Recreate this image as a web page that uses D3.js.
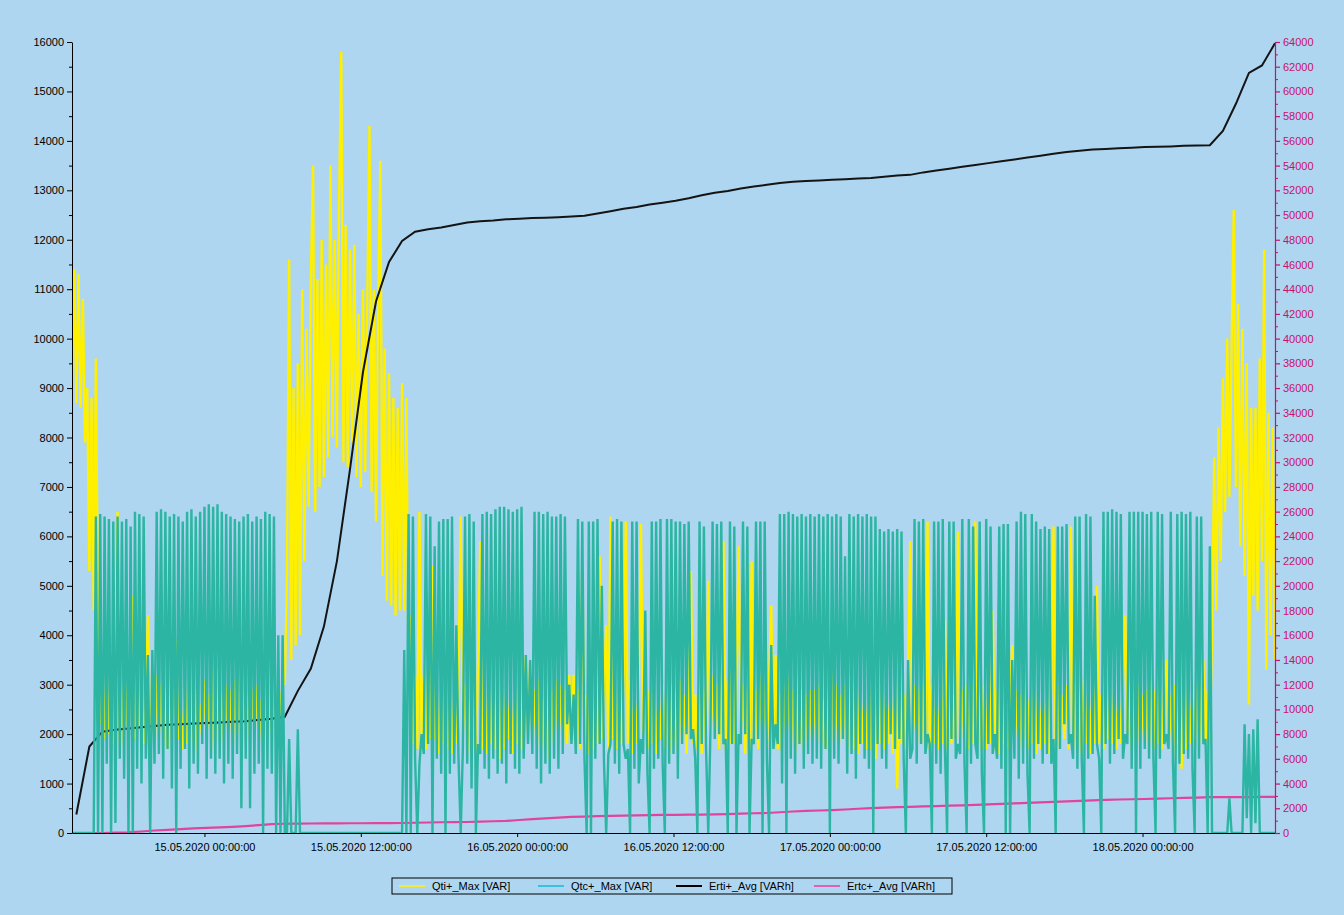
<!DOCTYPE html>
<html>
<head>
<meta charset="utf-8">
<script src="https://cdn.jsdelivr.net/npm/d3@7"></script>
<style>
  html, body { margin: 0; padding: 0; background: #afd6f0; }
  svg { display: block; }
  text { font-family: "Liberation Sans", Arial, sans-serif; }
</style>
</head>
<body>
<svg id="chart" width="1344" height="915"></svg>
<script>
// Reactive power maxima, one reading every 10 minutes from qStart (VAR)
const qStart = "14.05.2020 13:50:00";
const qStepMinutes = 10;

const qtiMax = [
  9000, 11400, 8700, 11300, 8600, 10800, 7900, 9000, 5300, 8800, 4500, 9600, 4300,
  2200, 3600, 1900, 3300, 2000, 2900, 1800, 3500, 6500, 1800,
  2900, 1700, 3000, 1900, 3700, 4800, 1900, 3300, 2100, 3000,
  1800, 2800, 4400, 1800, 2700, 1700, 3200, 2000, 3000, 1800,
  2900, 1700, 3100, 1900, 2800, 3900, 1900, 2600, 1700, 3100,
  1800, 2900, 4400, 1800, 2900, 1600, 2600, 1900, 3100, 2000,
  2800, 1700, 3400, 1900, 3300, 2100, 2800, 1800, 3000, 2000,
  2900, 1700, 3100, 2000, 3600, 1800, 3200, 2200, 2800, 1900,
  2900, 2100, 3000, 1800, 2700, 2000, 3300, 2100, 4200, 2000,
  3100, 2200, 3000, 2400, 3100,
  3000, 5200, 11600, 3500, 9000, 3800, 9500, 4000, 11000, 5500,
  10200, 6600, 11200, 13500, 6500, 11200, 7000, 12000, 7200, 11500,
  7600, 13500, 8000, 12000, 7800, 12800, 15800, 7500, 12300, 7400,
  11800, 7900, 11900, 7200, 10500, 7000, 11000, 7300, 10800, 14300,
  6900, 11000, 6300, 10800, 13600, 5200, 9800, 4700, 9300, 4600,
  8800, 4400, 8600, 4500, 9100,
  4500, 8800, 3000, 4400, 1800, 3200, 1700, 6500, 1800, 3200,
  1700, 3300, 1900, 5400, 1900, 2800, 1600, 3100, 1800, 2900,
  1700, 3000, 1600, 2800, 1800, 3200, 6400, 2000, 3000, 1600,
  2700, 1800, 3000, 1700, 3400, 5900, 1700, 3100, 1600, 2900,
  1800, 3000, 1700, 3200, 1500, 2800, 1700, 3000, 1900, 2800,
  1600, 2900, 1800, 3100, 1700, 2800, 3600, 2000, 3500, 1900,
  2900, 1600, 3100, 1700, 2700, 1800, 3000, 1500, 2900, 1800,
  3100, 1900, 3000, 1700, 2900, 1800, 3200, 2000, 3200, 1800,
  2900, 1700, 5600, 1800, 2800, 1600, 3000, 1700, 2900, 1800,
  5600, 1900, 3000, 4200, 1700, 6400, 1900, 3000, 1700, 2900,
  1800, 3100, 6300, 1800, 3100, 1600, 2900, 1800, 3000, 6250,
  2000, 4100, 1700, 2900, 1800, 3100, 1600, 2700, 1900, 3000,
  1700, 2800, 1600, 3000, 1800, 2900, 1700, 3100, 1800, 2800,
  1600, 3000, 5300, 1800, 2800, 1700, 3000, 1600, 2900, 1800,
  5100, 1800, 3200, 1900, 3000, 1700, 3100, 5900, 1700, 3100,
  1800, 4300, 1800, 3000, 5800, 2000, 3000, 1600, 2900, 1700,
  5500, 1800, 2900, 1700, 3200, 1900, 3000, 1700, 3100, 4600,
  2000, 3600, 1700, 2800, 1600, 3000, 1800, 3200, 1700, 2900,
  1600, 3200, 1800, 2900, 1700, 2800, 1800, 2900, 1700, 2900,
  1800, 3000, 1800, 2700, 1700, 2900, 1800, 3600, 1700, 3000,
  1600, 2800, 1900, 3000, 1700, 2900, 3400, 1700, 2900, 1600,
  3000, 1800, 2800, 1700, 3000, 1700, 2800, 1500, 2800, 1800,
  3000, 1700, 2900, 1800, 2900, 1600, 3100, 900, 2800, 1800,
  2800, 1700, 3000, 5900, 1800, 3000, 1700, 2900, 1800, 3000,
  1800, 6300, 1700, 3000, 1800, 2800, 1700, 2900, 1800, 4300,
  1700, 3000, 1800, 2800, 1900, 6100, 1900, 2900, 1700, 3000,
  1700, 3100, 1800, 6300, 1800, 2800, 1700, 3000, 1700, 3000,
  1800, 4500, 1700, 2900, 1600, 3000, 1800, 2900, 1700, 2800,
  3800, 1700, 2900, 1600, 2800, 1900, 3000, 1700, 2700, 1800,
  2900, 1600, 3000, 1700, 2800, 1800, 2900, 1600, 3000, 6200,
  1800, 3000, 1700, 2800, 1900, 3000, 1700, 6200, 1700, 3000,
  1800, 2900, 1600, 3100, 1800, 2900, 1600, 3100, 1800, 5000,
  1800, 2800, 1700, 3000, 1900, 2700, 1800, 3000, 1700, 2800,
  1800, 3000, 4400, 2000, 3000, 1700, 2900, 1800, 3000, 1600,
  2800, 1700, 2900, 1800, 3100, 1700, 2900, 1800, 3000, 1700,
  3100, 3500, 1700, 2800, 1500, 3000, 1800, 2700, 1300, 2900,
  1700, 3000, 1800, 2900, 1700, 3000, 1800, 2900, 3500, 1800,
  2900, 1900,
  4000, 7600, 4500, 8200, 5500, 9200, 6500, 10000, 6800, 9800,
  12600, 7000, 10700, 5800, 10200, 5200, 9500, 2600, 8600, 4800,
  8600, 4500, 9600, 5500, 11800, 3300, 8500, 4000, 8200, 3500
];

const qtcMax = [
  0, 0, 0, 0, 0, 0, 0, 0, 0, 0, 0,
  6400, 0, 6450, 0, 6400, 1400, 6350, 0, 6300, 200,
  6400, 1500, 6300, 1100, 6350, 0, 6200, 0, 6500, 1300,
  6450, 1000, 6400, 1500, 3600, 0, 3700, 1400, 6500, 1600,
  6550, 1100, 6500, 1700, 6400, 900, 6450, 0, 6400, 1300,
  6300, 1700, 6500, 900, 6550, 1400, 6400, 1200, 6500, 1800,
  6600, 1100, 6650, 1500, 6600, 1200, 6650, 1500, 6500, 1000,
  6450, 1400, 6400, 1100, 6350, 1600, 6300, 500, 6400, 1500,
  6450, 500, 6300, 1200, 6400, 1400, 6350, 0, 6500, 1300,
  6450, 1200, 6400, 0, 4000, 0, 4000, 0,
  0, 1900, 0, 0, 0, 2100, 0,
  0, 0, 0, 0, 0, 0, 0, 0, 0, 0,
  0, 0, 0, 0, 0, 0, 0, 0, 0, 0,
  0, 0, 0, 0, 0, 0, 0, 0, 0, 0,
  0, 0, 0, 0, 0, 0, 0, 0, 0, 0,
  0, 0, 0, 0, 0, 0, 0,
  3700, 0, 6450, 0, 6400, 1500, 0, 1400,
  2000, 1600, 6450, 1800, 6400, 0, 5800, 1500, 6300, 1200,
  6350, 0, 6350, 1200, 6400, 1400, 4200, 1500, 0, 1700,
  6400, 1400, 6450, 900, 6300, 0, 1800, 1600, 6450, 1300,
  6500, 1100, 6450, 1500, 6550, 1200, 6600, 1400, 6600, 1000,
  6550, 1600, 6500, 1300, 6550, 1200, 6600, 1500, 3600, 1800,
  3500, 1600, 6500, 1300, 6500, 1000, 6450, 1400, 6500, 1200,
  6400, 1500, 6400, 1300, 6450, 1600, 6400, 2200, 3000, 1800,
  2800, 1600, 6350, 1800, 6300, 1500, 0, 6300, 0, 6300,
  1500, 6350, 1800, 5000, 1400, 0, 1600, 1800, 6300, 1400,
  6350, 1200, 6300, 1800, 1500, 1700, 0, 6300, 1300, 6300,
  1000, 1900, 1600, 4500, 1200, 0, 6300, 1300, 6300, 1500,
  6350, 1400, 0, 6350, 1400, 6350, 1600, 6300, 1100, 6300,
  1800, 6250, 2000, 6300, 1900, 2100, 1500, 0, 6300, 1800,
  6200, 1700, 0, 2000, 6300, 1900, 6250, 2000, 6300, 1800,
  1900, 0, 6300, 1800, 6200, 0, 2000, 1800, 6300, 2000,
  6200, 0, 1900, 1800, 6300, 1900, 6300, 0, 6300, 1500,
  0, 3800, 1700, 2200, 1800, 6450, 1000, 6450, 0, 6500,
  1500, 6450, 1200, 6400, 1800, 6450, 1300, 6400, 1600, 6450,
  1400, 6400, 1500, 6450, 1300, 6400, 1700, 6450, 0, 6400,
  1500, 6450, 1400, 6400, 1900, 5600, 1200, 6450, 1600, 6400,
  1100, 6450, 1800, 6400, 1500, 6450, 1300, 6400, 0, 6400,
  1800, 6150, 1500, 6100, 1300, 6150, 2000, 6100, 1700, 6150,
  1900, 6100, 1500, 0, 3500, 1500, 1700, 6350, 1400, 6300,
  1800, 6350, 1600, 2000, 1800, 0, 6300, 1400, 6300, 1200,
  6350, 1700, 0, 6300, 1900, 6300, 1500, 1800, 1600, 6350,
  1400, 0, 6350, 1400, 6200, 1800, 1500, 6300, 1200, 0,
  6350, 1800, 6200, 1600, 2000, 1500, 6200, 1300, 6250, 0,
  6250, 0, 3500, 1500, 6300, 1100, 6500, 1400, 6450, 1200,
  0, 6450, 1500, 6300, 1800, 6150, 1400, 6200, 1600, 6150,
  1400, 1900, 0, 6200, 1700, 6200, 2200, 6250, 1800, 2000,
  1500, 6400, 1300, 6400, 1500, 0, 6450, 1500, 6400, 1600,
  4800, 1800, 1500, 0, 6500, 1800, 6500, 1400, 6550, 1600,
  6500, 1900, 6450, 1500, 2000, 1800, 6500, 1300, 6500, 0,
  6500, 1300, 6500, 1700, 6450, 1500, 6500, 1500, 0, 6500,
  1500, 6450, 1800, 2000, 1700, 6500, 1400, 0, 6450, 1400,
  6500, 1600, 6450, 1500, 6500, 1300, 0, 6400, 1500, 6400,
  1800, 1900, 0, 5800, 0, 0, 0, 0, 0, 0,
  0, 0, 700, 0, 0, 0, 0, 0, 0, 2200,
  300, 2000, 0, 2100, 200, 2300, 0, 0, 0, 0,
  0, 0, 0, 0
];

// Reactive energy averages, one reading per hour from eStart (VARh)
const eStart = "14.05.2020 14:10:00";
const eStepMinutes = 60;

const ertiAvg = [
  1500, 7000, 8200, 8350, 8450, 8550, 8650, 8750, 8800, 8850,
  8900, 8950, 9000, 9050, 9150, 9250, 9400, 11500, 13300, 16700,
  22000, 29400, 37300, 43000, 46200, 47900, 48650, 48850, 49000, 49200,
  49400, 49500, 49550, 49650, 49700, 49750, 49780, 49820, 49880, 49950,
  50120, 50300, 50500, 50650, 50850, 51000, 51150, 51350, 51600, 51800,
  51950, 52150, 52300, 52450, 52600, 52700, 52750, 52800, 52850, 52900,
  52950, 53000, 53100, 53200, 53250, 53450, 53600, 53750, 53900, 54050,
  54200, 54350, 54500, 54650, 54800, 54950, 55100, 55200, 55300, 55350,
  55400, 55450, 55500, 55520, 55550, 55600, 55620, 55650, 56800, 59000,
  61500, 62100, 63900
];

const ertcAvg = [
  0, 0, 0, 30, 60, 120, 200, 260, 320, 380,
  420, 460, 500, 560, 640, 720, 750, 760, 770, 780,
  780, 790, 790, 800, 800, 810, 830, 850, 870, 880,
  890, 920, 950, 980, 1050, 1120, 1190, 1250, 1300, 1330,
  1360, 1380, 1400, 1420, 1440, 1460, 1470, 1480, 1490, 1500,
  1520, 1560, 1600, 1620, 1680, 1740, 1790, 1820, 1850, 1900,
  1960, 2020, 2060, 2090, 2120, 2150, 2180, 2210, 2240, 2280,
  2320, 2360, 2400, 2440, 2480, 2520, 2560, 2600, 2640, 2680,
  2710, 2730, 2750, 2780, 2810, 2840, 2870, 2900, 2910, 2910,
  2910, 2920, 2920
];

// Axis ticks
const leftTicks = [0, 1000, 2000, 3000, 4000, 5000, 6000, 7000, 8000,
  9000, 10000, 11000, 12000, 13000, 14000, 15000, 16000];
const rightTicks = [0, 2000, 4000, 6000, 8000, 10000, 12000, 14000, 16000,
  18000, 20000, 22000, 24000, 26000, 28000, 30000, 32000, 34000, 36000,
  38000, 40000, 42000, 44000, 46000, 48000, 50000, 52000, 54000, 56000,
  58000, 60000, 62000, 64000];
const xTickLabels = ["15.05.2020 00:00:00", "15.05.2020 12:00:00",
  "16.05.2020 00:00:00", "16.05.2020 12:00:00", "17.05.2020 00:00:00",
  "17.05.2020 12:00:00", "18.05.2020 00:00:00"];
const timeRange = ["14.05.2020 13:50:00", "18.05.2020 10:10:00"];

const seriesNames = ["Qti+_Max [VAR]", "Qtc+_Max [VAR]", "Erti+_Avg [VARh]", "Ertc+_Avg [VARh]"];

// ---- layout ----
const plot = { left: 72, right: 1275, top: 42, bottom: 833 };
const colors = {
  qti: "#fff000", qtc: "#2bb5a2", erti: "#141414", ertc: "#e0449c",
  rightAxis: "#c8106a"
};

const parse = d3.timeParse("%d.%m.%Y %H:%M:%S");
const fmt = d3.format("d");
const svg = d3.select("#chart");

const x = d3.scaleTime().domain(timeRange.map(parse)).range([plot.left, plot.right]);
const yL = d3.scaleLinear().domain([0, 16000]).range([plot.bottom, plot.top]);
const yR = d3.scaleLinear().domain([0, 64000]).range([plot.bottom, plot.top]);

const qT0 = parse(qStart), eT0 = parse(eStart);
const qTime = i => d3.timeMinute.offset(qT0, i * qStepMinutes);
const eTime = i => d3.timeMinute.offset(eT0, i * eStepMinutes);

svg.append("defs").append("clipPath").attr("id", "plotClip")
  .append("rect")
  .attr("x", plot.left).attr("y", plot.top - 2)
  .attr("width", plot.right - plot.left).attr("height", plot.bottom - plot.top + 2);

// bottom axis line sits beneath the series
const xAxis = svg.append("g")
  .attr("transform", `translate(0,${plot.bottom})`)
  .call(d3.axisBottom(x)
    .tickValues(xTickLabels.map(parse))
    .tickFormat((d, i) => xTickLabels[i])
    .tickSize(4).tickSizeOuter(0).tickPadding(6));
xAxis.selectAll("text").attr("font-size", 11).attr("fill", "#000");
xAxis.selectAll("path,line").attr("stroke", "#000");

const series = svg.append("g").attr("clip-path", "url(#plotClip)");

const qLine = (scale) => d3.line().x((d, i) => x(qTime(i))).y(d => scale(d));
const eLine = (scale) => d3.line().x((d, i) => x(eTime(i))).y(d => scale(d));

series.append("path").datum(qtiMax)
  .attr("d", qLine(yL)).attr("fill", "none")
  .attr("stroke", colors.qti).attr("stroke-width", 2.4).attr("stroke-linejoin", "bevel");

series.append("path").datum(ertcAvg)
  .attr("d", eLine(yR)).attr("fill", "none")
  .attr("stroke", colors.ertc).attr("stroke-width", 2.2);

series.append("path").datum(ertiAvg)
  .attr("d", eLine(yR)).attr("fill", "none")
  .attr("stroke", colors.erti).attr("stroke-width", 2);

series.append("path").datum(qtcMax)
  .attr("d", qLine(yL)).attr("fill", "none")
  .attr("stroke", colors.qtc).attr("stroke-width", 2.4).attr("stroke-linejoin", "bevel");

// left axis with half-step minor ticks
const leftMinor = leftTicks.slice(1).map(v => v - 500);
svg.append("g").attr("transform", `translate(${plot.left},0)`)
  .call(d3.axisLeft(yL).tickValues(leftMinor).tickSize(3).tickFormat(""))
  .call(g => g.select(".domain").remove())
  .selectAll("line").attr("stroke", "#000");
const yAxisL = svg.append("g").attr("transform", `translate(${plot.left},0)`)
  .call(d3.axisLeft(yL).tickValues(leftTicks).tickFormat(fmt)
    .tickSize(5).tickSizeOuter(0).tickPadding(3));
yAxisL.selectAll("text").attr("font-size", 11).attr("fill", "#000");
yAxisL.selectAll("path,line").attr("stroke", "#000");

// right axis
const rightMinor = rightTicks.slice(1).map(v => v - 1000);
svg.append("g").attr("transform", `translate(${plot.right},0)`)
  .call(d3.axisRight(yR).tickValues(rightMinor).tickSize(3).tickFormat(""))
  .call(g => g.select(".domain").remove())
  .selectAll("line").attr("stroke", colors.rightAxis);
const yAxisR = svg.append("g").attr("transform", `translate(${plot.right},0)`)
  .call(d3.axisRight(yR).tickValues(rightTicks).tickFormat(fmt)
    .tickSize(5).tickSizeOuter(0).tickPadding(3));
yAxisR.selectAll("text").attr("font-size", 11).attr("fill", colors.rightAxis);
yAxisR.selectAll("path,line").attr("stroke", colors.rightAxis).attr("stroke-width", 1.2);

// legend
const legend = svg.append("g").attr("transform", "translate(392,878)");
legend.append("rect").attr("width", 560).attr("height", 16)
  .attr("fill", "none").attr("stroke", "#000").attr("stroke-width", 1);
const legendColors = ["#f2ea3a", "#38c2e2", "#000", "#e060b4"];
const legendX = [7, 146, 284, 422];
seriesNames.forEach((name, k) => {
  const g = legend.append("g").attr("transform", `translate(${legendX[k]},0)`);
  g.append("line").attr("x1", 0).attr("x2", 26).attr("y1", 8).attr("y2", 8)
    .attr("stroke", legendColors[k]).attr("stroke-width", 2);
  g.append("text").attr("x", 33).attr("y", 12).attr("font-size", 11).text(name);
});
</script>
</body>
</html>
